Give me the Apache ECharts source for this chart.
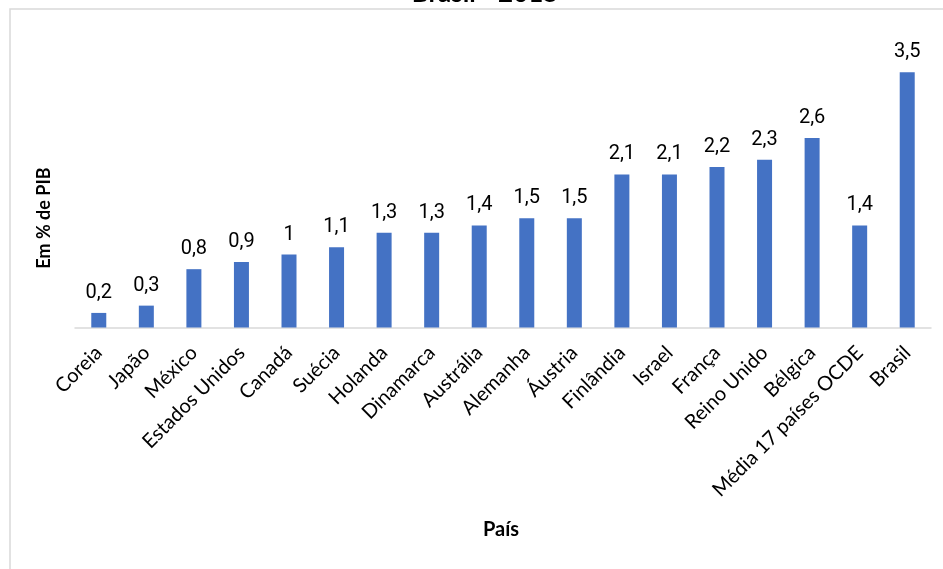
<!DOCTYPE html>
<html>
<head>
<meta charset="utf-8">
<script src="https://cdn.jsdelivr.net/npm/echarts@6/dist/echarts.min.js"></script>
<style>
  html, body { margin: 0; padding: 0; background: #fff; }
  #chart { width: 943px; height: 569px; }
</style>
</head>
<body>
<div id="chart"></div>
<script>
// Gasto em % do PIB por país
const paises = ['Coreia', 'Japão', 'México', 'Estados Unidos', 'Canadá', 'Suécia', 'Holanda',
  'Dinamarca', 'Austrália', 'Alemanha', 'Áustria', 'Finlândia', 'Israel', 'França',
  'Reino Unido', 'Bélgica', 'Média 17 países OCDE', 'Brasil'];
const valores = [0.2, 0.3, 0.8, 0.9, 1, 1.1, 1.3, 1.3, 1.4, 1.5, 1.5, 2.1, 2.1, 2.2, 2.3, 2.6, 1.4, 3.5];
const titulo = 'Brasil - 2015';
const tituloY = 'Em % de PIB';
const tituloX = 'País';

const chart = echarts.init(document.getElementById('chart'), null, { renderer: 'canvas' });

chart.setOption({
  animation: false,
  backgroundColor: '#ffffff',
  grid: { left: 75, width: 856, bottom: 241.5, height: 291.6, containLabel: false },
  xAxis: {
    type: 'category',
    data: paises,
    axisLine: { lineStyle: { color: '#d9d9d9', width: 1.5 } },
    axisTick: { show: false },
    axisLabel: {
      rotate: 45,
      interval: 0,
      margin: 22,
      color: '#000000',
      fontFamily: 'Lato',
      fontSize: 20
    }
  },
  yAxis: {
    type: 'value',
    min: 0,
    max: 4,
    show: false
  },
  series: [{
    type: 'bar',
    data: valores,
    barWidth: 15,
    itemStyle: { color: '#4472c4' },
    label: {
      show: true,
      position: 'top',
      distance: 10,
      color: '#000000',
      fontFamily: 'Roboto',
      fontSize: 20,
      formatter: p => String(p.value).replace('.', ',')
    }
  }],
  graphic: [
    {
      type: 'rect',
      silent: true,
      shape: { x: 10, y: 9, width: 2000, height: 2000 },
      style: { fill: 'none', stroke: '#d9d9d9', lineWidth: 1.5 }
    },
    {
      type: 'text',
      x: 485, y: -6,
      style: {
        text: titulo,
        font: 'bold 26px Lato',
        fill: '#000000',
        align: 'center',
        verticalAlign: 'middle'
      }
    },
    {
      type: 'text',
      x: 44, y: 218,
      rotation: Math.PI / 2,
      style: {
        text: tituloY,
        font: 'bold 18px Lato',
        fill: '#000000',
        align: 'center',
        verticalAlign: 'middle'
      }
    },
    {
      type: 'text',
      x: 501, y: 530,
      style: {
        text: tituloX,
        font: 'bold 20px Lato',
        fill: '#000000',
        align: 'center',
        verticalAlign: 'middle'
      }
    }
  ]
});
</script>
</body>
</html>
